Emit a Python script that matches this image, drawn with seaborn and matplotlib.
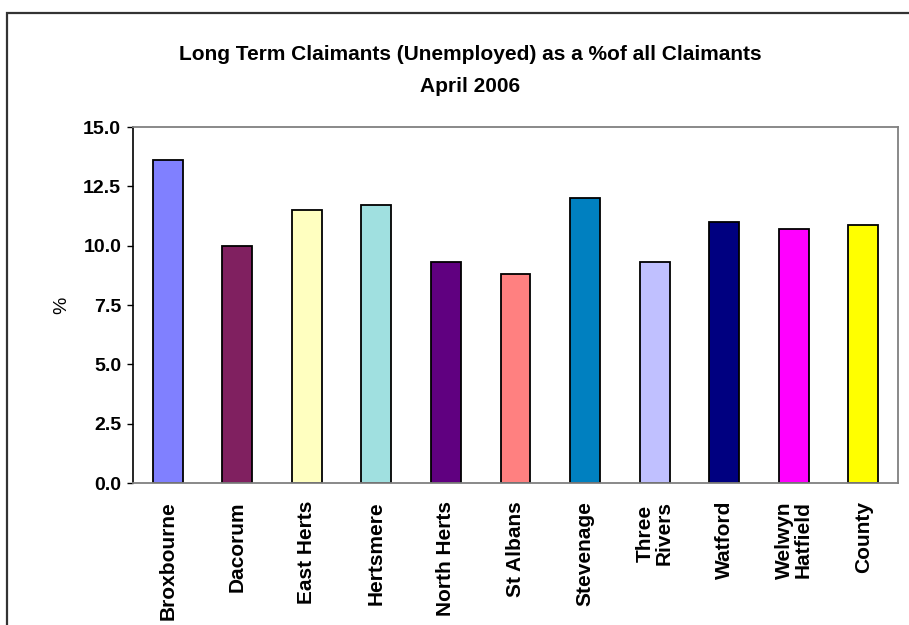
import matplotlib
matplotlib.use('Agg')
import matplotlib.pyplot as plt
import pandas as pd
import seaborn as sns
from matplotlib.patches import Rectangle

districts=['Broxbourne','Dacorum','East Herts','Hertsmere','North Herts','St Albans',
	'Stevenage','Three\nRivers','Watford','Welwyn\nHatfield','County']
pct=[13.6,10.0,11.5,11.7,9.3,8.8,12.0,9.3,11.0,10.7,10.85]
colours=['#8080FF','#802060','#FFFFC0','#A0E0E0','#600080','#FF8080',
	'#0080C0','#C0C0FF','#000080','#FF00FF','#FFFF00']
yticks=[0.0,2.5,5.0,7.5,10.0,12.5,15.0]

sns.set_style('white')
plt.rcParams['font.family']=['Liberation Sans','DejaVu Sans']
plt.rcParams['text.color']='black'
plt.rcParams['axes.labelcolor']='black'

df=pd.DataFrame({'District':districts,'Pct':pct})
fig=plt.figure(figsize=(9.09,6.25),dpi=100)
ax=fig.add_axes([133/909,1-483/625,(898-133)/909,(483-127)/625])
sns.barplot(data=df,x='District',y='Pct',hue='District',palette=colours,saturation=1,
	width=0.43,edgecolor='black',linewidth=1.3,legend=False,ax=ax)

ax.set_ylim(0,15)
ax.set_yticks(yticks)
ax.set_yticklabels(['%.1f'%v for v in yticks],fontsize=14,fontweight='bold',color='black')
ax.set_xticks(range(len(districts)))
ax.set_xticklabels(districts,rotation=90,fontsize=15,fontweight='bold',color='black',
	va='top',ha='center',multialignment='center',linespacing=1.0)
ax.tick_params(axis='y',direction='out',length=4.5,width=1,pad=4,left=True,color='black')
ax.tick_params(axis='x',length=0,pad=13)
ax.set_xlabel('')
ax.set_ylabel('%',fontsize=14,labelpad=9,color='black')

for s in ['top','right','bottom']:
	ax.spines[s].set_color('#808080')
	ax.spines[s].set_linewidth(1.3)
	ax.spines[s].set_visible(True)
ax.spines['left'].set_color('black')
ax.spines['left'].set_linewidth(1.2)
ax.spines['left'].set_visible(True)

fig.text(470/909,1-55/625,'Long Term Claimants (Unemployed) as a %of all Claimants',
	ha='center',va='center',fontsize=15,fontweight='bold')
fig.text(470/909,1-87/625,'April 2006',ha='center',va='center',fontsize=15,fontweight='bold')

# outer chart frame, cut off on the right and bottom like the source
fig.patches.append(Rectangle((7/909,-0.05),1.1,1-13/625+0.05,transform=fig.transFigure,
	fill=False,edgecolor='#333333',linewidth=1.6))

fig.savefig('out.png',dpi=100)
